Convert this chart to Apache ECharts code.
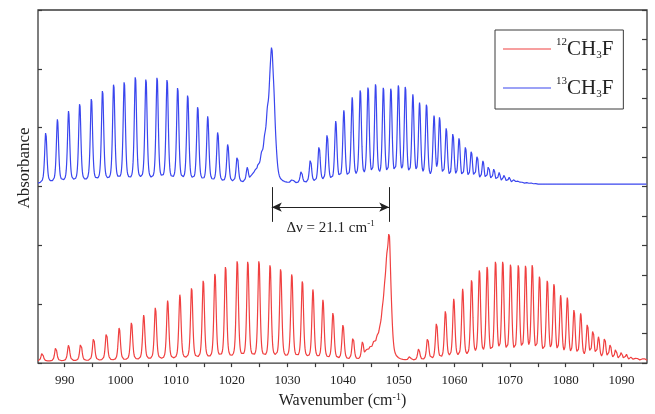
<!DOCTYPE html>
<html>
<head>
<meta charset="utf-8">
<script src="https://cdn.jsdelivr.net/npm/echarts@6/dist/echarts.min.js"></script>
<style>
  html, body { margin: 0; padding: 0; background: #fff; }
  #chart { width: 655px; height: 414px; }
</style>
</head>
<body>
<div id="chart"></div>
<script>
// ---- Line lists (wavenumber in cm-1, peak absorbance in arbitrary units) ----
// 12CH3F : P, Q and R branches
const red12P_pos = [985.96, 988.4, 990.7, 992.9, 995.2, 997.5, 999.8, 1002.0, 1004.2, 1006.3, 1008.5, 1010.7, 1012.8, 1014.9, 1017.0, 1018.9, 1021.0, 1022.9, 1024.9, 1026.9, 1028.8, 1030.8, 1032.7, 1034.6, 1036.4, 1038.2, 1040.0, 1041.8, 1043.5];
const red12P_abs = [0.18, 0.27, 0.31, 0.35, 0.44, 0.53, 0.61, 0.70, 0.82, 0.96, 1.07, 1.17, 1.30, 1.43, 1.55, 1.67, 1.77, 1.76, 1.77, 1.70, 1.63, 1.54, 1.42, 1.26, 1.08, 0.87, 0.66, 0.45, 0.37];
const red12Q_pos = [1044.3, 1044.9, 1045.5, 1046.1, 1046.6, 1047.05, 1047.45, 1047.85, 1048.3, 1048.7];
const red12Q_abs = [0.25, 0.29, 0.37, 0.47, 0.63, 0.95, 1.35, 1.85, 2.21, 1.05];
const red12R_pos = [1052.0, 1053.6, 1055.2, 1056.8, 1058.4, 1059.9, 1061.5, 1063.1, 1064.5, 1065.9, 1067.4, 1068.7, 1070.1, 1071.5, 1072.8, 1074.0, 1075.3, 1076.7, 1077.9, 1079.1, 1080.3, 1081.5, 1082.7, 1083.9, 1084.9, 1085.9, 1087.0, 1088.0, 1089.0, 1090.0, 1090.9, 1091.8, 1092.7, 1093.6, 1094.3];
const red12R_abs = [0.12, 0.25, 0.44, 0.70, 0.90, 1.10, 1.27, 1.44, 1.61, 1.67, 1.76, 1.76, 1.71, 1.70, 1.69, 1.70, 1.50, 1.43, 1.37, 1.16, 1.12, 0.92, 0.85, 0.68, 0.58, 0.45, 0.44, 0.32, 0.25, 0.19, 0.15, 0.11, 0.10, 0.08, 0.08];
const red12Baseline = 0.03;

// 13CH3F : P, Q and R branches (trace offset upwards)
const blue13P_pos = [986.6, 988.7, 990.7, 992.7, 994.8, 996.8, 998.8, 1000.7, 1002.7, 1004.6, 1006.6, 1008.4, 1010.3, 1012.1, 1013.9, 1015.7, 1017.5, 1019.3, 1021.0, 1022.8];
const blue13P_abs = [3.93, 4.15, 4.29, 4.43, 4.52, 4.66, 4.77, 4.81, 4.90, 4.86, 4.89, 4.85, 4.71, 4.58, 4.38, 4.20, 3.94, 3.73, 3.53, 3.33];
const blue13Q_pos = [1023.6, 1024.15, 1024.75, 1025.35, 1025.9, 1026.4, 1026.85, 1027.2, 1027.6, 1028.0];
const blue13Q_abs = [3.20, 3.28, 3.39, 3.59, 3.88, 4.35, 4.92, 5.37, 4.62, 3.70];
const blue13R_pos = [1030.9, 1032.5, 1034.15, 1035.7, 1037.15, 1038.7, 1040.15, 1041.65, 1043.1, 1044.5, 1045.85, 1047.25, 1048.6, 1049.95, 1051.2, 1052.55, 1053.75, 1055.0, 1056.35, 1057.35, 1058.55, 1059.75, 1060.85, 1062.0, 1063.05, 1064.1, 1065.15, 1066.15, 1067.1, 1068.05, 1068.95, 1069.85, 1070.75, 1071.55, 1072.3, 1073.1, 1073.8, 1074.55];
const blue13R_abs = [3.13, 3.27, 3.47, 3.70, 3.90, 4.12, 4.30, 4.52, 4.67, 4.72, 4.76, 4.70, 4.70, 4.74, 4.73, 4.57, 4.43, 4.42, 4.21, 4.19, 4.00, 3.92, 3.83, 3.68, 3.61, 3.53, 3.44, 3.36, 3.30, 3.24, 3.20, 3.16, 3.13, 3.10, 3.08, 3.07, 3.06, 3.05];
const blue13Baseline = 3.04;

// Q-branch centres used for the isotope-shift marker
const qCentre12 = 1048.3;
const qCentre13 = 1027.2;

// Axis ranges and ticks
const xRange = [985.2, 1094.6];
const yRange = [0, 6];
const xTickValues = [990, 995, 1000, 1005, 1010, 1015, 1020, 1025, 1030, 1035, 1040, 1045, 1050, 1055, 1060, 1065, 1070, 1075, 1080, 1085, 1090];
const xLabelValues = [990, 1000, 1010, 1020, 1030, 1040, 1050, 1060, 1070, 1080, 1090];
const seriesNames = ['12CH3F', '13CH3F'];

// ---- Line shape: pseudo-Voigt ----
const HW_LINE = 0.24;   // half width of resolved P/R lines
const HW_Q = 0.30;      // half width of the packed Q-branch lines
const ETA = 0.5;
function profile(d, hw) {
  const u = (d / hw) * (d / hw);
  return ETA / (1 + u) + (1 - ETA) * Math.exp(-Math.LN2 * u);
}

// Solve line amplitudes so the summed spectrum reaches the listed peak heights
function buildLines(groups, base) {
  const pos = [], tgt = [], hw = [];
  groups.forEach(g => g.pos.forEach((p, i) => { pos.push(p); tgt.push(g.abs[i]); hw.push(g.hw); }));
  const n = pos.length;
  const amp = tgt.map(t => Math.max(0, t - base));
  for (let it = 0; it < 300; it++) {
    for (let i = 0; i < n; i++) {
      let s = 0;
      for (let j = 0; j < n; j++) {
        if (j !== i && Math.abs(pos[j] - pos[i]) < 15) s += amp[j] * profile(pos[i] - pos[j], hw[j]);
      }
      amp[i] = Math.max(0, tgt[i] - base - s);
    }
  }
  return { pos, amp, hw };
}

function spectrum(groups, base) {
  const L = buildLines(groups, base);
  const step = 0.02;
  const n = Math.round((xRange[1] - xRange[0]) / step);
  const out = [];
  for (let k = 0; k <= n; k++) {
    const x = xRange[0] + k * step;
    let y = base;
    for (let i = 0; i < L.pos.length; i++) {
      const d = x - L.pos[i];
      if (Math.abs(d) < 12) y += L.amp[i] * profile(d, L.hw[i]);
    }
    out.push([+x.toFixed(2), y]);
  }
  return out;
}

const data12 = spectrum([
  { pos: red12P_pos, abs: red12P_abs, hw: HW_LINE },
  { pos: red12Q_pos, abs: red12Q_abs, hw: HW_Q },
  { pos: red12R_pos, abs: red12R_abs, hw: HW_LINE }
], red12Baseline);

const data13 = spectrum([
  { pos: blue13P_pos, abs: blue13P_abs, hw: HW_LINE },
  { pos: blue13Q_pos, abs: blue13Q_abs, hw: HW_Q },
  { pos: blue13R_pos, abs: blue13R_abs, hw: HW_LINE }
], blue13Baseline);

// ---- Chart ----
const SERIF = "'Liberation Serif', 'Times New Roman', serif";
const INK = '#222';
const FRAME = '#3a3a3a';
const RED = '#f04040';
const BLUE = '#3a46ee';

const shift = (qCentre12 - qCentre13).toFixed(1);
const markerTop = 2.99, markerBottom = 2.40, arrowLevel = 2.65;

const chart = echarts.init(document.getElementById('chart'), null, { renderer: 'canvas' });
chart.setOption({
  animation: false,
  backgroundColor: '#fff',
  grid: {
    left: 38, top: 10, width: 609, height: 354,
    show: true, borderColor: FRAME, borderWidth: 1.3, backgroundColor: 'transparent'
  },
  legend: {
    data: seriesNames,
    orient: 'vertical',
    left: 495, top: 30,
    padding: [7, 10, 9, 8],
    itemGap: 15,
    itemWidth: 48, itemHeight: 1,
    icon: 'rect',
    borderColor: FRAME, borderWidth: 1,
    selectedMode: false,
    formatter: name => `{sup|${name.slice(0, 2)}}{main|CH}{sub|3}{main|F}`,
    textStyle: {
      color: INK,
      fontFamily: SERIF,
      rich: {
        main: { fontFamily: SERIF, fontSize: 21, lineHeight: 24, color: INK },
        sup: { fontFamily: SERIF, fontSize: 11, lineHeight: 2, verticalAlign: 'top', color: INK },
        sub: { fontFamily: SERIF, fontSize: 11, lineHeight: 2, verticalAlign: 'bottom', color: INK }
      }
    }
  },
  xAxis: {
    type: 'value',
    min: xRange[0], max: xRange[1],
    name: '{n|Wavenumber (cm}{s|-1}{n|)}',
    nameLocation: 'middle',
    nameGap: 28,
    nameTextStyle: {
      color: INK,
      rich: {
        n: { fontFamily: SERIF, fontSize: 16, color: INK, lineHeight: 18 },
        s: { fontFamily: SERIF, fontSize: 10, color: INK, verticalAlign: 'top', lineHeight: 4 }
      }
    },
    axisLine: { show: false },
    axisTick: { show: true, inside: false, length: 4, customValues: xTickValues, lineStyle: { color: FRAME, width: 1.2 } },
    axisLabel: {
      show: true, margin: 11, customValues: xLabelValues,
      formatter: v => String(Math.round(v)),
      fontFamily: SERIF, fontSize: 13, color: INK
    },
    splitLine: { show: false }
  },
  yAxis: [
    {
      type: 'value', position: 'left',
      min: yRange[0], max: yRange[1], interval: 1,
      axisLine: { show: false },
      axisTick: { show: true, inside: true, length: 4, lineStyle: { color: FRAME, width: 1.2 } },
      axisLabel: { show: false },
      splitLine: { show: false }
    },
    {
      type: 'value', position: 'right',
      min: yRange[0], max: yRange[1], interval: 0.5,
      axisLine: { show: false },
      axisTick: { show: true, inside: true, length: 5, lineStyle: { color: FRAME, width: 1.2 } },
      axisLabel: { show: false },
      splitLine: { show: false }
    }
  ],
  graphic: [{
    type: 'text',
    x: 25, y: 168,
    rotation: Math.PI / 2,
    style: {
      text: 'Absorbance',
      fill: INK,
      font: `17px ${SERIF}`,
      align: 'center',
      verticalAlign: 'middle'
    }
  }],
  series: [
    {
      name: seriesNames[0],
      type: 'line',
      data: data12,
      showSymbol: false,
      symbol: 'none',
      sampling: 'none',
      color: RED,
      lineStyle: { color: RED, width: 1.2 },
      clip: true,
      silent: true,
      markLine: {
        silent: true,
        animation: false,
        symbol: ['none', 'none'],
        symbolSize: [7, 10],
        lineStyle: { color: INK, width: 1, type: 'solid' },
        label: { show: false },
        emphasis: { disabled: true },
        data: [
          [{ coord: [qCentre13, markerTop] }, { coord: [qCentre13, markerBottom] }],
          [{ coord: [qCentre12, markerTop] }, { coord: [qCentre12, markerBottom] }],
          [{ coord: [qCentre13, arrowLevel], symbol: 'arrow' }, { coord: [qCentre12, arrowLevel], symbol: 'arrow' }]
        ]
      },
      markPoint: {
        silent: true,
        animation: false,
        symbol: 'circle',
        symbolSize: 0,
        label: {
          show: true,
          position: 'inside',
          formatter: `{t|\u0394\u03bd = ${shift} cm}{s|-1}`,
          rich: {
            t: { fontFamily: SERIF, fontSize: 15, color: INK, lineHeight: 18 },
            s: { fontFamily: SERIF, fontSize: 9, color: INK, verticalAlign: 'top', lineHeight: 6 }
          }
        },
        data: [{ coord: [(qCentre12 + qCentre13) / 2, 2.30] }]
      }
    },
    {
      name: seriesNames[1],
      type: 'line',
      data: data13,
      showSymbol: false,
      symbol: 'none',
      sampling: 'none',
      color: BLUE,
      lineStyle: { color: BLUE, width: 1.2 },
      clip: true,
      silent: true
    }
  ]
});
</script>
</body>
</html>
